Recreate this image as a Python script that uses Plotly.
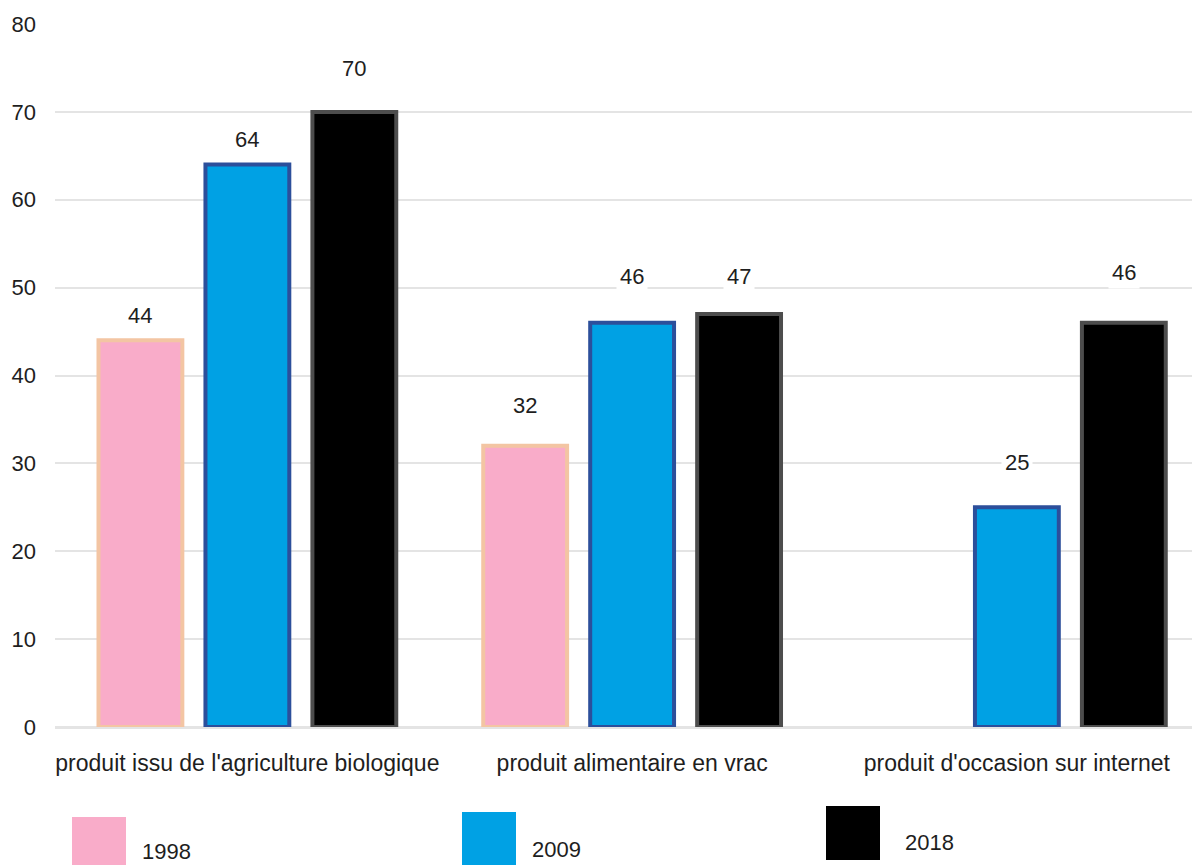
import plotly.graph_objects as go

# ---- data ----
categories = [
    "produit issu de l'agriculture biologique",
    "produit alimentaire en vrac",
    "produit d'occasion sur internet",
]
series_names = ["1998", "2009", "2018"]
values_1998 = [44, 32, None]
values_2009 = [64, 46, 25]
values_2018 = [70, 47, 46]
y_ticks = [0, 10, 20, 30, 40, 50, 60, 70, 80]

# ---- styles ----
OFF = 8  # default page body margin
W, H = 1200 - OFF, 865 - OFF
ML, MR, MT, MB = 55 - OFF, 0, 24 - OFF, 138
fills = ["#f9acc9", "#00a1e4", "#000000"]
borders = ["#f3c5a3", "#2c4f9b", "#4d4d4d"]
FONT = "Liberation Sans, Arial, sans-serif"
TXT = "#1e1e1e"
BARGAP = 0.166
BARGROUPGAP = 0.216
# label vertical offsets (px) above each bar top
label_shift = [[25, 40, 0], [25, 46, 45], [43, 37, 50]]

all_values = [values_1998, values_2009, values_2018]

fig = go.Figure()
for k, (name, vals) in enumerate(zip(series_names, all_values)):
    fig.add_trace(go.Bar(
        x=list(range(len(categories))),
        y=vals,
        name=name,
        marker=dict(color=fills[k], line=dict(color=borders[k], width=4)),
        showlegend=False,
    ))

# value labels
slot = (1 - BARGAP) / 3
annotations = []
for k, vals in enumerate(all_values):
    for i, v in enumerate(vals):
        if v is None:
            continue
        annotations.append(dict(
            x=i + (k - 1) * slot, y=v, xref="x", yref="y",
            text=str(v), showarrow=False, yanchor="middle",
            yshift=label_shift[k][i],
            font=dict(family=FONT, size=22, color=TXT),
            bgcolor="white", borderpad=3,
        ))

# custom legend (page pixel positions converted to paper coords)
pw, ph = W - ML - MR, H - MT - MB
def px(x):
    return (x - OFF - ML) / pw
def py(y):
    return (H - MB - (y - OFF)) / ph

legend_boxes = [(72, 817), (462, 812), (826, 806)]
legend_text = [(140, 851), (530, 850), (903, 842)]
SQ = 54
shapes = []
for k, name in enumerate(series_names):
    bx, by = legend_boxes[k]
    shapes.append(dict(type="rect", xref="paper", yref="paper",
                       x0=px(bx), x1=px(bx + SQ), y0=py(by), y1=py(by + SQ),
                       fillcolor=fills[k], line=dict(width=0), layer="above"))
    tx, ty = legend_text[k]
    annotations.append(dict(
        x=px(tx), y=py(ty), xref="paper", yref="paper", text=name,
        showarrow=False, xanchor="left", yanchor="middle",
        font=dict(family=FONT, size=22, color=TXT),
    ))

fig.update_layout(
    width=W, height=H,
    margin=dict(l=ML, r=MR, t=MT, b=MB),
    paper_bgcolor="white", plot_bgcolor="white",
    barmode="group", bargap=BARGAP, bargroupgap=BARGROUPGAP,
    annotations=annotations, shapes=shapes,
    font=dict(family=FONT, size=22, color=TXT),
)
fig.update_xaxes(
    tickmode="array", tickvals=list(range(len(categories))), ticktext=categories,
    range=[-0.5, -0.5 + pw / 384.75],
    showgrid=False, showline=False, zeroline=False,
    ticks="", ticklabelstandoff=20,
    tickfont=dict(family=FONT, size=23, color=TXT),
)
fig.update_yaxes(
    range=[0, 80], tickmode="array", tickvals=y_ticks,
    showgrid=True, gridcolor="#e4e4e4", gridwidth=2,
    zeroline=True, zerolinecolor="#e4e4e4", zerolinewidth=3,
    showline=False, ticks="", ticklabelstandoff=18,
    tickfont=dict(family=FONT, size=22, color=TXT),
)

fig.write_html("out.html")
